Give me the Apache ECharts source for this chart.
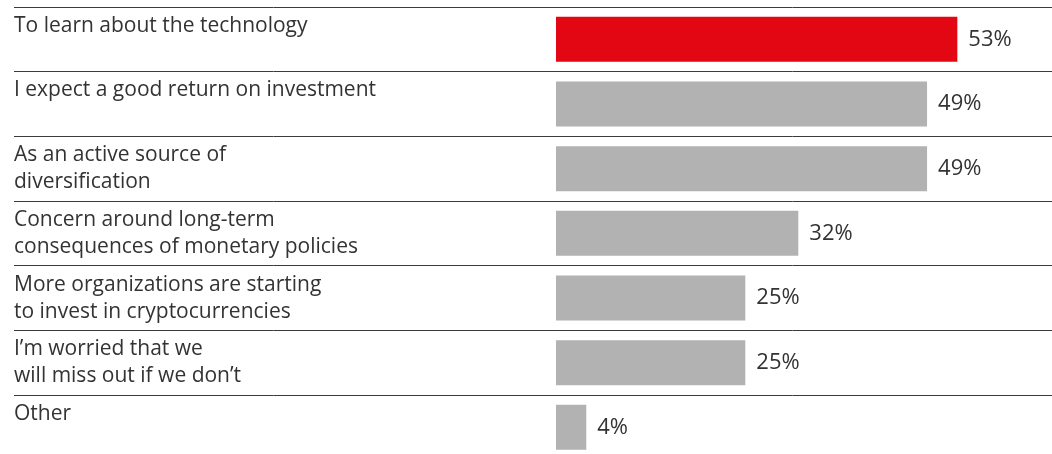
<!DOCTYPE html>
<html>
<head>
<meta charset="utf-8">
<script src="https://cdn.jsdelivr.net/npm/echarts@6/dist/echarts.min.js"></script>
<style>html,body{margin:0;padding:0;background:#fff;overflow:hidden;width:1052px;height:454px}#c{width:1052px;height:462px}</style>
</head>
<body>
<div id="c"></div>
<script>
const categories = [
  "To learn about the technology",
  "I expect a good return on investment",
  "As an active source of\ndiversification",
  "Concern around long-term\nconsequences of monetary policies",
  "More organizations are starting\nto invest in cryptocurrencies",
  "I\u2019m worried that we\nwill miss out if we don\u2019t",
  "Other"
];
const values = [53, 49, 49, 32, 25, 25, 4];
const highlightIndex = 0;

const FONT = "'Open Sans', sans-serif";
const chart = echarts.init(document.getElementById('c'), null, {renderer: 'canvas'});
chart.setOption({
  animation: false,
  grid: [
    {left: 556, right: 0, top: 7, height: 452.7, containLabel: false},
    {left: 14, right: 0, top: 7, height: 452.7, containLabel: false}
  ],
  xAxis: [
    {gridIndex: 0, type: 'value', min: 0, max: 65.5, show: false},
    {gridIndex: 1, type: 'value', min: 0, max: 1, show: false}
  ],
  yAxis: [
    {gridIndex: 0, type: 'category', data: categories, inverse: true, show: false},
    {
      gridIndex: 1, type: 'category', data: categories, inverse: true,
      axisLine: {show: false}, axisTick: {show: false},
      splitLine: {show: true, interval: 0, lineStyle: {color: '#3a3a3a', width: 1}},
      axisLabel: {
        inside: true, interval: 0, align: 'left', verticalAlign: 'middle',
        fontFamily: FONT, fontSize: 21, color: '#333', lineHeight: 27, margin: 0,
        formatter: v => v.indexOf('\n') >= 0 ? v : v + '\n\u00a0'
      }
    }
  ],
  series: [{
    type: 'bar', xAxisIndex: 0, yAxisIndex: 0,
    barWidth: 45,
    data: values.map((v, i) => ({value: v, itemStyle: {color: i === highlightIndex ? '#E30613' : '#B2B2B2'}})),
    label: {show: true, position: 'right', distance: 11, formatter: '{c}%', fontFamily: FONT, fontSize: 22, color: '#333'}
  }]
});
</script>
</body>
</html>
